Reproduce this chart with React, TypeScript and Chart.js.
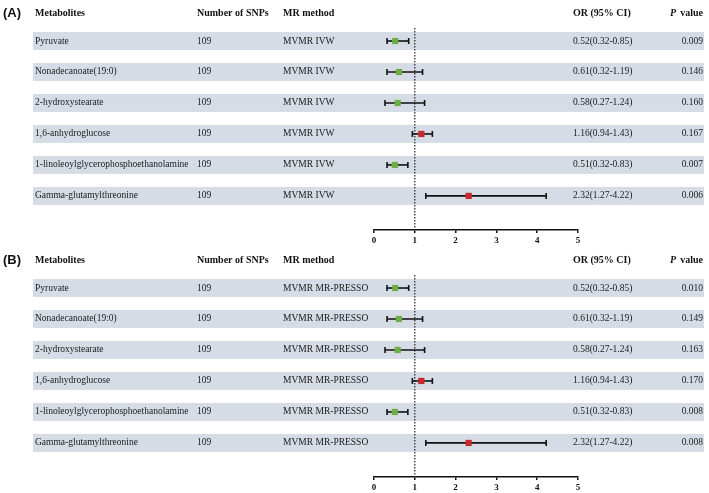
import React, { useEffect, useRef } from "react";
import { Chart, registerables } from "chart.js";
Chart.register(...registerables);

const metabolites = [
  "Pyruvate",
  "Nonadecanoate(19:0)",
  "2-hydroxystearate",
  "1,6-anhydroglucose",
  "1-linoleoylglycerophosphoethanolamine",
  "Gamma-glutamylthreonine",
];
const snps = [109, 109, 109, 109, 109, 109];
const orValues = [0.52, 0.61, 0.58, 1.16, 0.51, 2.32];
const ciLow = [0.32, 0.32, 0.27, 0.94, 0.32, 1.27];
const ciHigh = [0.85, 1.19, 1.24, 1.43, 0.83, 4.22];
const orLabels = [
  "0.52(0.32-0.85)",
  "0.61(0.32-1.19)",
  "0.58(0.27-1.24)",
  "1.16(0.94-1.43)",
  "0.51(0.32-0.83)",
  "2.32(1.27-4.22)",
];
const pValuesA = ["0.009", "0.146", "0.160", "0.167", "0.007", "0.006"];
const pValuesB = ["0.010", "0.149", "0.163", "0.170", "0.008", "0.008"];
const methodA = "MVMR IVW";
const methodB = "MVMR MR-PRESSO";
const headers = ["Metabolites", "Number of SNPs", "MR method", "OR (95% CI)"];
const xTicks = [0, 1, 2, 3, 4, 5];

const GREEN = "#6aae45";
const RED = "#c62a2f";
const BAND = "#d6dce5";
const SERIF = "'Liberation Serif', 'Times New Roman', serif";

function Panel({ label, method, pvals, top }: { label: string; method: string; pvals: string[]; top: number }) {
  const ref = useRef<HTMLCanvasElement>(null);
  useEffect(() => {
    const canvas = ref.current!;
    const colors = orValues.map((v) => (v < 1 ? GREEN : RED));
    const ciSets: any[] = metabolites.map((_, i) => ({
      type: "line",
      data: [
        { x: ciLow[i], y: i },
        { x: ciHigh[i], y: i },
      ],
      borderColor: "#111",
      borderWidth: 1.6,
      showLine: true,
      pointStyle: "line",
      rotation: 90,
      pointRadius: 3,
      pointBorderColor: "#111",
      pointBorderWidth: 1.6,
      order: 2,
    }));
    const pointSet: any = {
      type: "scatter",
      data: orValues.map((v, i) => ({ x: v, y: i })),
      pointStyle: "rect",
      pointRadius: 4.4,
      pointBackgroundColor: colors,
      pointBorderWidth: 0,
      order: 0,
    };

    const tablePlugin = {
      id: "table",
      beforeDatasetsDraw(chart: any) {
        const { ctx, scales, chartArea } = chart;
        const y = scales.y;
        const x = scales.x;
        ctx.save();
        ctx.fillStyle = BAND;
        metabolites.forEach((_, i) => {
          const y0 = y.getPixelForValue(i - 0.29);
          const y1 = y.getPixelForValue(i + 0.29);
          ctx.fillRect(33, y0, 704 - 33, y1 - y0);
        });
        // reference line at OR = 1
        const x1 = x.getPixelForValue(1);
        ctx.strokeStyle = "#222";
        ctx.lineWidth = 1.2;
        ctx.setLineDash([1.5, 1.5]);
        ctx.beginPath();
        ctx.moveTo(x1, chartArea.top);
        ctx.lineTo(x1, chartArea.bottom);
        ctx.stroke();
        ctx.restore();
      },
      afterDraw(chart: any) {
        const { ctx, scales } = chart;
        const y = scales.y;
        ctx.save();
        ctx.textBaseline = "middle";
        // panel label
        ctx.fillStyle = "#111";
        ctx.font = "bold 13px 'Liberation Sans', Arial, sans-serif";
        ctx.textAlign = "left";
        ctx.fillText(label, 3, 13);
        // headers
        ctx.font = `bold 10px ${SERIF}`;
        ctx.fillText(headers[0], 35, 13);
        ctx.fillText(headers[1], 197, 13);
        ctx.fillText(headers[2], 283, 13);
        ctx.fillText(headers[3], 573, 13);
        ctx.textAlign = "right";
        ctx.fillText("value", 703, 13);
        const vw = ctx.measureText("value").width;
        ctx.font = `italic bold 10px ${SERIF}`;
        ctx.fillText("P", 703 - vw - 4, 13);
        // rows
        ctx.font = `9.5px ${SERIF}`;
        ctx.fillStyle = "#1a1a1a";
        metabolites.forEach((m, i) => {
          const py = y.getPixelForValue(i);
          ctx.textAlign = "left";
          ctx.fillText(m, 35, py);
          ctx.fillText(String(snps[i]), 197, py);
          ctx.fillText(method, 283, py);
          ctx.fillText(orLabels[i], 573, py);
          ctx.textAlign = "right";
          ctx.fillText(pvals[i], 703, py);
        });
        ctx.restore();
      },
    };

    const chart = new Chart(canvas, {
      type: "scatter",
      data: { datasets: [pointSet, ...ciSets] },
      options: {
        responsive: false,
        animation: false,
        events: [],
        layout: { padding: { left: 374, right: 131, top: 28, bottom: 0 } },
        plugins: { legend: { display: false }, tooltip: { enabled: false } },
        scales: {
          x: {
            type: "linear",
            min: xTicks[0],
            max: xTicks[xTicks.length - 1],
            afterBuildTicks: (s: any) => {
              s.ticks = xTicks.map((v) => ({ value: v }));
            },
            afterFit: (s: any) => {
              s.height = 17;
            },
            grid: { drawOnChartArea: false, drawTicks: true, tickLength: 3, color: "#111", lineWidth: 1.5 },
            border: { display: true, color: "#111", width: 1.6 },
            ticks: { color: "#111", padding: 2, font: { family: SERIF, size: 9, weight: "bold" } },
          },
          y: { type: "linear", reverse: true, min: -0.42, max: 6.1, display: false },
        },
      } as any,
      plugins: [tablePlugin],
    });
    return () => chart.destroy();
  }, []);
  return (
    <canvas
      ref={ref}
      width={709}
      height={247}
      style={{ position: "absolute", left: 0, top, width: 709, height: 247 }}
    />
  );
}

export default function App() {
  return (
    <div style={{ position: "absolute", left: 0, top: 0, width: 709, height: 493, background: "#fff" }}>
      <Panel label="(A)" method={methodA} pvals={pValuesA} top={0} />
      <Panel label="(B)" method={methodB} pvals={pValuesB} top={247} />
    </div>
  );
}
